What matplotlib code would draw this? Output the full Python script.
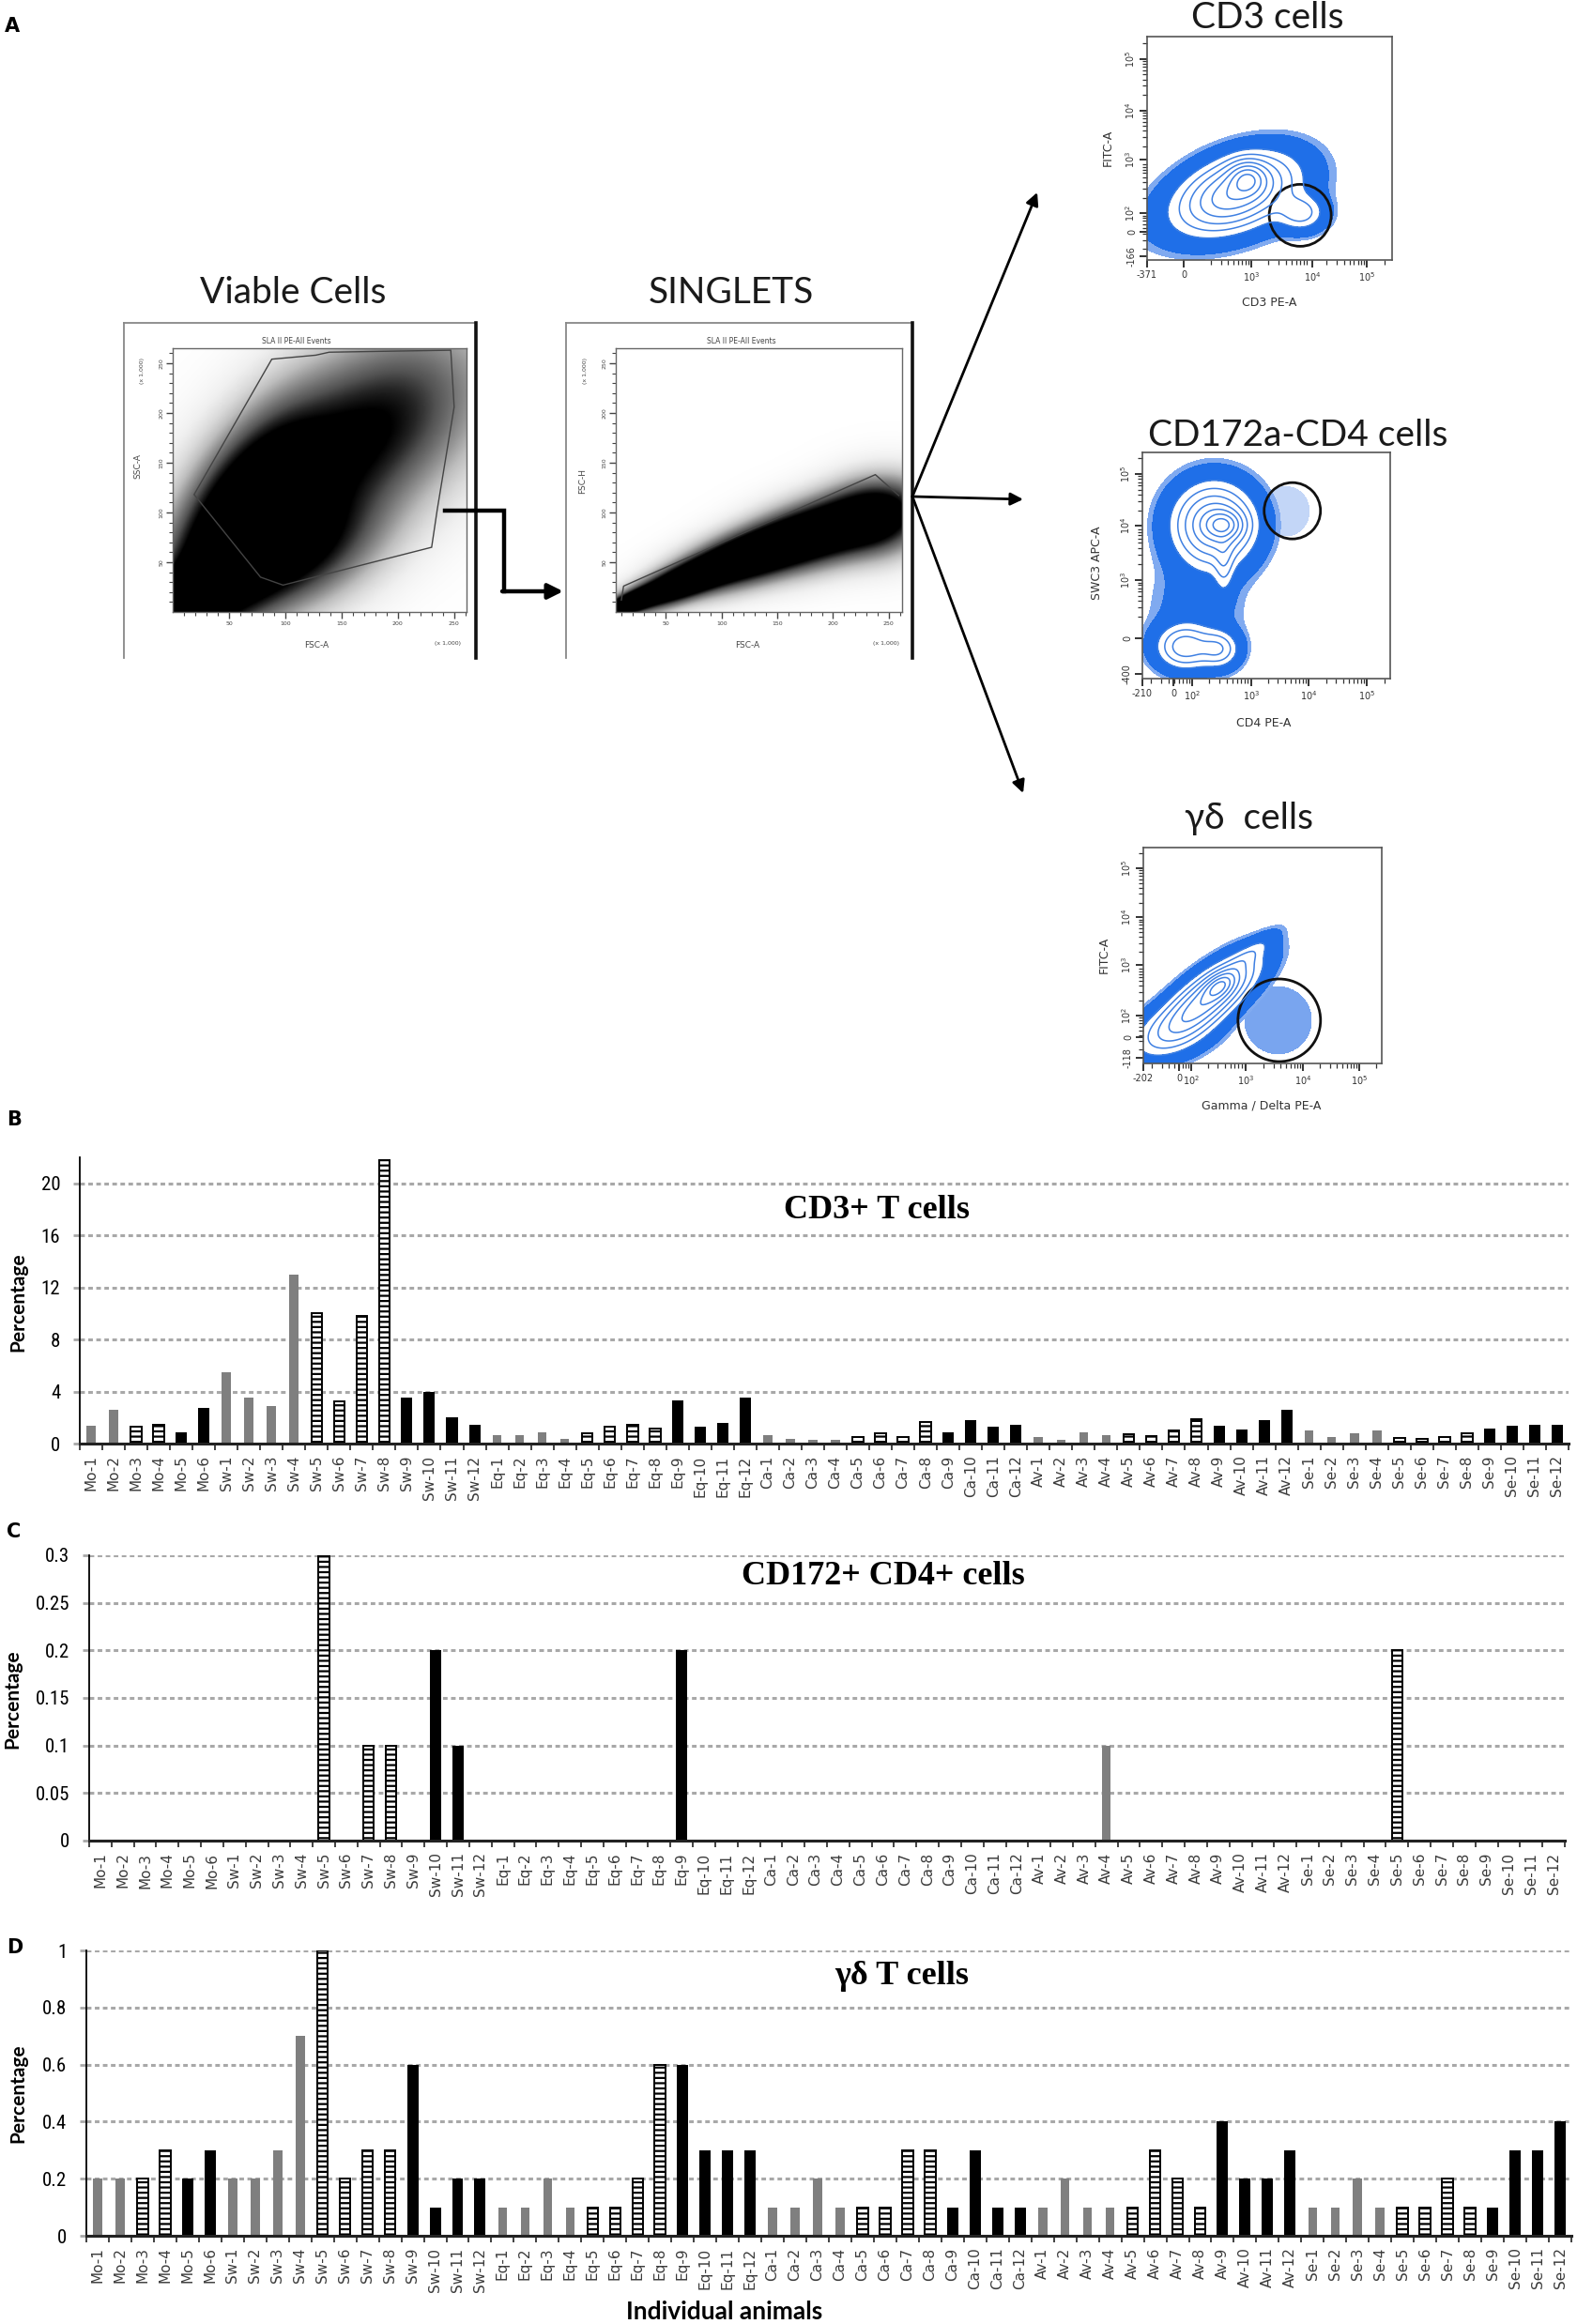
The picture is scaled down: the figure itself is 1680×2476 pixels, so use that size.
import numpy as np
import matplotlib
matplotlib.use("Agg")
import matplotlib.pyplot as plt
from matplotlib import font_manager
from matplotlib.patches import Ellipse, Polygon

W, H, DPI = 1680, 2476, 100

available = {f.name for f in font_manager.fontManager.ttflist}


def pick(*names):
    for n in names:
        if n in available:
            return n
    return "DejaVu Sans"


NARROW = pick("Liberation Sans Narrow", "Roboto Condensed", "Lato")
HUMAN = pick("Lato", "Open Sans", "DejaVu Sans")
SERIF = pick("Liberation Serif", "DejaVu Serif")

# ---------------------------------------------------------------- data
species = ["Mo", "Sw", "Eq", "Ca", "Av", "Se"]
counts = [6, 12, 12, 12, 12, 12]
animals = [f"{s}-{i}" for s, n in zip(species, counts) for i in range(1, n + 1)]
bar_class = (["gray"] * 2 + ["hatch"] * 2 + ["black"] * 2) + \
            (["gray"] * 4 + ["hatch"] * 4 + ["black"] * 4) * 5

cd3_pct = [1.35, 2.6, 1.33, 1.47, 0.84, 2.72,
           5.5, 3.57, 2.9, 13.0, 10.0, 3.28, 9.8, 21.8, 3.5, 3.97, 2.0, 1.47,
           0.63, 0.67, 0.87, 0.39, 0.82, 1.3, 1.47, 1.16, 3.33, 1.33, 1.6, 3.57,
           0.67, 0.36, 0.31, 0.31, 0.5, 0.8, 0.5, 1.64, 0.87, 1.8, 1.33, 1.47,
           0.5, 0.31, 0.84, 0.65, 0.75, 0.55, 1.0, 1.86, 1.37, 1.08, 1.8, 2.63,
           1.0, 0.5, 0.8, 1.0, 0.46, 0.36, 0.5, 0.8, 1.13, 1.37, 1.47, 1.47]

cd172_cd4_pct = [0, 0, 0, 0, 0, 0,
                 0, 0, 0, 0, 0.3, 0, 0.1, 0.1, 0, 0.2, 0.1, 0,
                 0, 0, 0, 0, 0, 0, 0, 0, 0.2, 0, 0, 0,
                 0, 0, 0, 0, 0, 0, 0, 0, 0, 0, 0, 0,
                 0, 0, 0, 0.1, 0, 0, 0, 0, 0, 0, 0, 0,
                 0, 0, 0, 0, 0.2, 0, 0, 0, 0, 0, 0, 0]

gd_pct = [0.2, 0.2, 0.2, 0.3, 0.2, 0.3,
          0.2, 0.2, 0.3, 0.7, 1.0, 0.2, 0.3, 0.3, 0.6, 0.1, 0.2, 0.2,
          0.1, 0.1, 0.2, 0.1, 0.1, 0.1, 0.2, 0.6, 0.6, 0.3, 0.3, 0.3,
          0.1, 0.1, 0.2, 0.1, 0.1, 0.1, 0.3, 0.3, 0.1, 0.3, 0.1, 0.1,
          0.1, 0.2, 0.1, 0.1, 0.1, 0.3, 0.2, 0.1, 0.4, 0.2, 0.2, 0.3,
          0.1, 0.1, 0.2, 0.1, 0.1, 0.1, 0.2, 0.1, 0.1, 0.3, 0.3, 0.4]

# flow-cytometry population shapes
# (centre x, centre y, spread major, spread minor, angle deg, weight)
viable_pops = [(20, 18, 26, 14, 50, 2.0), (62, 85, 65, 28, 65, 1.0),
               (100, 60, 50, 30, 30, 0.5), (140, 150, 75, 40, 45, 0.40),
               (200, 205, 60, 45, 45, 0.16)]
singlet_pops = [(20, 10, 18, 5, 25, 1.5), (70, 32, 35, 9, 25, 1.2),
                (130, 58, 40, 14, 22, 1.0), (195, 82, 40, 18, 20, 0.8),
                (240, 95, 25, 21, 15, 0.5)]
cd3_pops = [(0.36, 0.30, 0.15, 0.09, 25, 1.0), (0.41, 0.37, 0.05, 0.05, 20, 0.55),
            (0.63, 0.21, 0.06, 0.05, 0, 0.36), (0.30, 0.22, 0.22, 0.10, 15, 0.07),
            (0.55, 0.33, 0.14, 0.11, 30, 0.03)]
cd4_pops = [(0.29, 0.68, 0.10, 0.11, 0, 1.0), (0.33, 0.68, 0.05, 0.04, 0, 0.6),
            (0.33, 0.50, 0.025, 0.08, 0, 0.25), (0.17, 0.14, 0.07, 0.06, 0, 0.6),
            (0.31, 0.13, 0.05, 0.05, 0, 0.45), (0.22, 0.30, 0.12, 0.16, 0, 0.09)]
cd4_sparse = [(0.58, 0.74, 0.06, 0.07, 0, 1.0)]
gd_pops = [(0.27, 0.30, 0.16, 0.06, 42, 1.0), (0.32, 0.36, 0.05, 0.03, 42, 0.5),
           (0.44, 0.50, 0.09, 0.025, 42, 0.15), (0.12, 0.14, 0.12, 0.07, 20, 0.25)]
gd_sparse = [(0.565, 0.20, 0.09, 0.10, 0, 1.0)]

viable_gate = [(19, 118), (88, 254), (127, 258), (139, 261), (247, 263), (250, 206),
               (235, 103), (230, 65), (98, 27), (78, 35)]
singlet_gate = [(10, 12), (12, 26), (238, 138), (259, 117)]

# ---------------------------------------------------------------- figure
plt.rcParams["hatch.linewidth"] = 1.6
fig = plt.figure(figsize=(W / DPI, H / DPI), dpi=DPI)


def px_axes(x0, y0, x1, y1):
    return fig.add_axes([x0 / W, 1 - y1 / H, (x1 - x0) / W, (y1 - y0) / H])


def mixture(X, Y, pops):
    Z = np.zeros_like(X)
    for cx, cy, sa, sb, ang, w in pops:
        a = np.radians(ang)
        dx, dy = X - cx, Y - cy
        u = dx * np.cos(a) + dy * np.sin(a)
        v = -dx * np.sin(a) + dy * np.cos(a)
        Z += w * np.exp(-0.5 * ((u / sa) ** 2 + (v / sb) ** 2))
    return Z


# ------------------------- bar panels
styles = {
    "gray": dict(color="#7f7f7f", width=0.40),
    "hatch": dict(facecolor="white", edgecolor="black", hatch="---", linewidth=1.4, width=0.48),
    "black": dict(color="black", width=0.50),
}


def bar_panel(rect, values, ymax, yticks, yticklabels):
    ax = px_axes(*rect)
    x = np.arange(len(animals))
    v = np.array(values, dtype=float)
    for cls, kw in styles.items():
        m = np.array([c == cls for c in bar_class])
        ax.bar(x[m], v[m], zorder=3, **kw)
    ax.set_xlim(-0.5, len(animals) - 0.5)
    ax.set_ylim(0, ymax)
    ax.set_yticks(yticks)
    ax.set_yticklabels(yticklabels, fontfamily=NARROW, fontsize=15)
    ax.yaxis.grid(True, linestyle=(0, (1.6, 1.2)), color="#a8a8a8", linewidth=2.2, zorder=0)
    ax.set_axisbelow(True)
    for s in ("top", "right"):
        ax.spines[s].set_visible(False)
    ax.spines["left"].set_linewidth(1.3)
    ax.spines["bottom"].set_linewidth(2.2)
    ax.spines["bottom"].set_color("#222222")
    ax.spines["bottom"].set_zorder(4)
    ax.set_xticks(x)
    ax.set_xticklabels(animals, rotation=90, fontsize=11, color="#3a3a3a",
                       fontfamily="DejaVu Sans")
    ax.set_xticks(np.arange(-0.5, len(animals), 1.0), minor=True)
    ax.tick_params(axis="x", which="major", length=0, pad=9)
    ax.tick_params(axis="x", which="minor", length=5, width=1.3, color="#333333")
    ax.tick_params(axis="y", which="major", length=5, width=2, color="#a8a8a8", pad=10)
    return ax


bar_panel((85, 1233, 1671, 1538), cd3_pct, 22, [0, 4, 8, 12, 16, 20],
          ["0", "4", "8", "12", "16", "20"])
bar_panel((95, 1657, 1667, 1961), cd172_cd4_pct, 0.3, [0, 0.05, 0.1, 0.15, 0.2, 0.25, 0.3],
          ["0", "0.05", "0.1", "0.15", "0.2", "0.25", "0.3"])
bar_panel((92, 2078, 1674, 2382), gd_pct, 1.0, [0, 0.2, 0.4, 0.6, 0.8, 1.0],
          ["0", "0.2", "0.4", "0.6", "0.8", "1"])

# ------------------------- gray dot plots (viable / singlets)


def dot_plot(rect, pops, xlim, vmax, gate, closed):
    ax = px_axes(*rect)
    gx = np.linspace(xlim[0], xlim[1], 420)
    gy = np.linspace(0, 265, 420)
    X, Y = np.meshgrid(gx, gy)
    Z = mixture(X, Y, pops)
    Zs = np.clip(Z / vmax, 0, 1) ** 0.55
    ax.imshow(Zs, extent=[xlim[0], xlim[1], 0, 265], origin="lower", cmap="Greys",
              vmin=0, vmax=1, aspect="auto", interpolation="bilinear")
    if closed:
        ax.add_patch(Polygon(gate, closed=True, fill=False, ec="#444444", lw=1.0))
    else:
        gxs, gys = zip(*gate)
        ax.plot(gxs, gys, color="#444444", lw=1.0)
    ax.set_xlim(*xlim)
    ax.set_ylim(0, 265)
    for s in ax.spines.values():
        s.set_color("#666666")
        s.set_linewidth(1.0)
    ticks = [50, 100, 150, 200, 250]
    ax.set_xticks(ticks)
    ax.set_xticklabels([str(t) for t in ticks], fontsize=4.5, color="#444444")
    ax.set_yticks(ticks)
    ax.set_yticklabels([str(t) for t in ticks], fontsize=4.5, color="#444444",
                       rotation=90, va="center")
    ax.set_xticks(np.arange(10, xlim[1], 10), minor=True)
    ax.set_yticks(np.arange(10, 265, 10), minor=True)
    ax.tick_params(which="major", length=5, width=1, color="#444444", pad=2)
    ax.tick_params(which="minor", length=3, width=0.8, color="#444444")
    return ax


dot_plot((184, 371, 497, 652), viable_pops, (0, 261), 0.42, viable_gate, True)
dot_plot((656, 371, 961, 652), singlet_pops, (5, 262), 0.45, singlet_gate, False)

# ------------------------- blue contour plots


def minor_positions(decades):
    step = np.mean(np.diff(decades))
    out = []
    for p in np.arange(decades[0] - step, decades[-1] + 0.001, step):
        for k in range(2, 10):
            q = p + step * np.log10(k)
            if 0 < q < 1:
                out.append(q)
    return out


def flow_plot(rect, pops, xt, xtl, yt, ytl, xdec, ydec, gate_c, gate_r,
              sparse=None, sparse_color="#7ea8ef"):
    ax = px_axes(*rect)
    wpx, hpx = rect[2] - rect[0], rect[3] - rect[1]
    g = np.linspace(0, 1, 500)
    X, Y = np.meshgrid(g, g)
    if sparse:
        Zs = mixture(X, Y, sparse)
        ax.contourf(X, Y, Zs / Zs.max(), levels=[0.3, 1.01], colors=[sparse_color])
    Z = mixture(X, Y, pops)
    Z = Z / Z.max()
    ax.contourf(X, Y, Z, levels=[0.018, 0.03], colors=["#80aaf0"])
    ax.contourf(X, Y, Z, levels=[0.03, 0.13], colors=["#1f6fe8"])
    ax.contour(X, Y, Z, levels=[0.13, 0.22, 0.33, 0.46, 0.6, 0.75, 0.9], colors="#3f80e2",
               linewidths=1.1)
    ax.add_patch(Ellipse(gate_c, 2 * gate_r / wpx, 2 * gate_r / hpx, transform=ax.transAxes,
                         fill=False, ec="#111111", lw=2.0))
    ax.set_xlim(0, 1)
    ax.set_ylim(0, 1)
    for s in ax.spines.values():
        s.set_color("#555555")
        s.set_linewidth(1.2)
    ax.set_xticks(xt)
    ax.set_xticklabels(xtl, fontsize=7, color="#333333")
    ax.set_yticks(yt)
    ax.set_yticklabels(ytl, fontsize=7, color="#333333", rotation=90, va="center")
    ax.set_xticks(minor_positions(xdec), minor=True)
    ax.set_yticks(minor_positions(ydec), minor=True)
    ax.tick_params(which="major", length=6, width=1.4, color="#333333", pad=2)
    ax.tick_params(which="minor", length=3.5, width=0.9, color="#333333")
    return ax


dec = ["10$^2$", "10$^3$", "10$^4$", "10$^5$"]
flow_plot((1222, 39, 1483, 277), cd3_pops,
          [0.0, 0.15, 0.425, 0.675, 0.897], ["-371", "0"] + dec[1:],
          [0.017, 0.126, 0.21, 0.45, 0.67, 0.90], ["-166", "0"] + dec,
          [0.425, 0.675, 0.897], [0.21, 0.45, 0.67, 0.90], (0.625, 0.20), 33)
flow_plot((1217, 482, 1481, 723), cd4_pops,
          [0.0, 0.125, 0.20, 0.44, 0.67, 0.905], ["-210", "0"] + dec,
          [0.02, 0.178, 0.436, 0.676, 0.905], ["-400", "0"] + dec[1:],
          [0.20, 0.44, 0.67, 0.905], [0.436, 0.676, 0.905], (0.605, 0.742), 30,
          sparse=cd4_sparse, sparse_color="#c3d6f7")
flow_plot((1218, 903, 1472, 1133), gd_pops,
          [0.0, 0.15, 0.20, 0.43, 0.67, 0.905], ["-202", "0"] + dec,
          [0.026, 0.122, 0.222, 0.456, 0.678, 0.904], ["-118", "0"] + dec,
          [0.20, 0.43, 0.67, 0.905], [0.222, 0.456, 0.678, 0.904], (0.57, 0.20), 44,
          sparse=gd_sparse, sparse_color="#79a5ef")

# ------------------------- overlay: text, frames, arrows
ov = fig.add_axes([0, 0, 1, 1])
ov.set_xlim(0, W)
ov.set_ylim(H, 0)
ov.axis("off")
ov.patch.set_alpha(0)

for lab, (x, y) in {"A": (13, 28), "B": (15, 1193), "C": (15, 1632), "D": (16, 2075)}.items():
    ov.text(x, y, lab, fontsize=15, fontweight="bold", ha="center", va="center",
            fontfamily="DejaVu Sans")

tfam = [HUMAN, "DejaVu Sans"]
for s, (x, y) in {"Viable Cells": (312, 312), "SINGLETS": (779, 312),
                  "CD3 cells": (1350, 19), "CD172a-CD4 cells": (1383, 464),
                  "γδ  cells": (1330, 872)}.items():
    ov.text(x, y, s, fontsize=28, ha="center", va="center", color="#1a1a1a", fontfamily=tfam)

for s, (x, y) in {"CD3+ T cells": (934, 1289), "CD172+ CD4+ cells": (941, 1680),
                  "γδ T cells": (961, 2105)}.items():
    ov.text(x, y, s, fontsize=26, fontweight="bold", ha="center", va="center",
            fontfamily=SERIF)

for x, y in [(19, 1387), (13, 1810), (19, 2230)]:
    ov.text(x, y, "Percentage", fontsize=15, fontweight="bold", rotation=90,
            ha="center", va="center", fontfamily=tfam)
ov.text(772, 2463, "Individual animals", fontsize=19, fontweight="bold",
        ha="center", va="center", fontfamily=tfam)

# small labels of the dot plots
small = dict(color="#444444", ha="center", va="center", fontfamily="DejaVu Sans")
for cx in (316, 790):
    ov.text(cx, 364, "SLA II PE-All Events", fontsize=5.5, **small)
ov.text(147, 497, "SSC-A", fontsize=6.5, rotation=90, **small)
ov.text(337, 688, "FSC-A", fontsize=6.5, **small)
ov.text(621, 513, "FSC-H", fontsize=6.5, rotation=90, **small)
ov.text(796, 688, "FSC-A", fontsize=6.5, **small)
for x in (477, 944):
    ov.text(x, 686, "(x 1,000)", fontsize=4.5, **small)
for x in (152, 624):
    ov.text(x, 395, "(x 1,000)", fontsize=4.5, rotation=90, **small)

# axis titles of the contour plots
lab = dict(color="#333333", ha="center", va="center", fontfamily="DejaVu Sans", fontsize=9)
ov.text(1180, 157, "FITC-A", rotation=90, **lab)
ov.text(1352, 323, "CD3 PE-A", **lab)
ov.text(1168, 600, "SWC3 APC-A", rotation=90, **lab)
ov.text(1346, 770, "CD4 PE-A", **lab)
ov.text(1176, 1017, "FITC-A", rotation=90, **lab)
ov.text(1344, 1178, "Gamma / Delta PE-A", **lab)

# frames around the dot plots
for xl, xr in [(132, 507), (603, 972)]:
    ov.plot([xl, xl], [344, 701], color="#888888", lw=1.3)
    ov.plot([xl, xr], [344, 344], color="#888888", lw=1.3)
    ov.plot([xr, xr], [344, 701], color="#111111", lw=2.6)

# arrows
ov.plot([474, 537, 537], [544, 544, 630], color="black", lw=3.2, solid_joinstyle="miter")
ov.annotate("", xy=(600, 630), xytext=(535, 630),
            arrowprops=dict(arrowstyle="-|>", lw=3.2, color="black", mutation_scale=24,
                            shrinkA=0, shrinkB=0))
for end in [(1105, 205), (1090, 532), (1090, 845)]:
    ov.annotate("", xy=end, xytext=(972, 529),
                arrowprops=dict(arrowstyle="-|>", lw=2.0, color="black", mutation_scale=20,
                                shrinkA=0, shrinkB=0))

fig.savefig("out.png", dpi=DPI)
